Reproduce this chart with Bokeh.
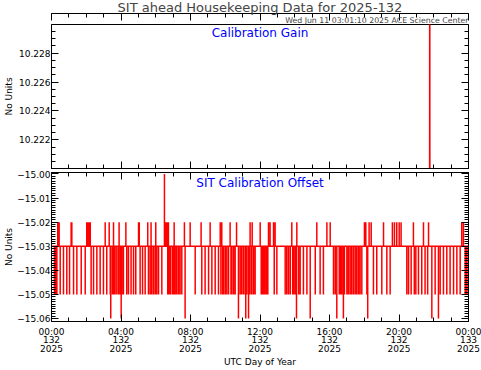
from bokeh.plotting import figure
from bokeh.models import (Range1d, LinearAxis, SingleIntervalTicker, CustomJSTickFormatter,
                          Label, Title, ColumnDataSource, CustomLabelingPolicy)
from bokeh.layouts import column
from bokeh.embed import file_html
from bokeh.resources import INLINE

# ---------------- data ----------------
title_text = "SIT ahead Housekeeping Data for 2025-132"
stamp_text = "Wed Jun 11 03:01:10 2025 ACE Science Center"

tick_hours = [0, 4, 8, 12, 16, 20, 24]
tick_times = ["00:00", "04:00", "08:00", "12:00", "16:00", "20:00", "00:00"]
tick_doys = ["132", "132", "132", "132", "132", "132", "133"]
tick_years = ["2025", "2025", "2025", "2025", "2025", "2025", "2025"]

# Calibration Gain (only visible as a jump through the plotted range)
gain_hours = [21.76, 21.77, 21.78]
gain_values = [10.200, 10.250, 10.200]

# SIT Calibration Offset: baseline with excursions
offset_base = -15.03
offset_hi_hours = [0.36, 0.44, 1.13, 1.17, 2.03, 2.09, 2.15, 2.23, 3.09, 3.32, 3.57, 3.89,
                   4.28, 5.01, 5.05, 5.54, 5.73, 6.00, 6.58, 6.66, 6.73, 7.06, 7.65,
                   7.98, 8.61, 9.13, 9.71, 9.80, 10.28, 10.65, 11.43, 11.55, 12.01, 12.49,
                   12.58, 12.78, 12.87, 13.83, 14.12, 15.27, 15.85,
                   16.04, 18.01, 18.09, 18.28, 18.40, 19.11, 19.62, 19.74, 19.87, 20.01,
                   20.12, 20.83, 21.41, 21.70, 23.61, 23.71]
offset_hi_value = -15.02
offset_lo_hours = [0.17, 0.25, 0.31, 0.50, 0.69, 0.88, 1.04, 1.27, 1.46, 1.71, 1.94, 2.28,
                   2.42, 2.61, 2.80, 2.99, 3.18, 3.38, 3.51, 3.59, 3.66, 3.76, 3.86, 3.95,
                   4.05, 4.14, 4.33, 4.43, 4.58, 4.72, 4.85, 5.10, 5.24, 5.39, 5.58, 5.68,
                   5.77, 5.87, 5.97, 6.06, 6.16, 6.35, 6.69, 6.77, 6.85, 6.96, 7.04, 7.12,
                   7.21, 7.31, 7.40, 7.50,
                   8.27, 8.65, 8.84, 9.04, 9.23, 9.42, 9.61, 9.75, 9.85, 9.90, 10.00, 10.09,
                   10.19, 10.33, 10.38, 10.48, 10.57, 10.86, 10.95, 11.05, 11.15, 11.24,
                   11.38, 11.48, 11.53, 11.63, 11.72, 12.07, 12.14, 12.22, 12.30, 12.39,
                   12.45, 12.82, 12.97, 13.45, 13.54, 13.64, 13.74, 13.88, 13.93, 14.02,
                   14.22, 14.31, 14.50, 14.70, 15.18, 15.46, 15.65,
                   16.23, 16.33, 16.56, 16.63, 16.71, 16.86, 17.00, 17.09, 17.19, 17.28,
                   17.38, 17.48, 17.57, 17.67, 17.76, 17.86, 18.15, 18.53, 18.72, 19.01,
                   19.30, 19.49, 20.45, 20.55, 20.70, 20.88, 20.97, 21.12, 21.31, 21.50,
                   21.65, 22.08, 22.37, 22.56, 22.75, 22.94, 23.14, 23.33, 23.52, 23.81,
                   23.90, 24.00]
offset_lo_value = -15.05
offset_lo2_hours = [3.41, 4.01, 7.69, 10.76, 11.18, 11.34, 14.10, 14.89, 16.42, 16.80,
                    18.20, 21.89, 22.27]
offset_lo2_value = -15.06
offset_top_hours = [6.50]
offset_top_value = -15.00

# ---------------- build series ----------------
events = sorted([(h, offset_hi_value) for h in offset_hi_hours] +
                [(h, offset_lo_value) for h in offset_lo_hours] +
                [(h, offset_lo2_value) for h in offset_lo2_hours] +
                [(h, offset_top_value) for h in offset_top_hours])
off_x = [0.0]
off_y = [offset_base]
for h, v in events:
    off_x += [h, h, h]
    off_y += [offset_base, v, offset_base]
off_x.append(24.0)
off_y.append(offset_base)

FONT = "DejaVu Sans"
RED = "#ff0000"
BLUE = "#0000ff"

x_range = Range1d(0, 24)

HIDE_CODE = """
const all = [...indices]
for (const i of all) indices.unset(i)
return indices
"""


def style_axis(ax, show_labels):
    ax.axis_line_color = "black"
    ax.major_tick_line_color = "black"
    ax.minor_tick_line_color = "black"
    ax.major_tick_in = 7
    ax.major_tick_out = 0
    ax.minor_tick_in = 4
    ax.minor_tick_out = 0
    ax.major_label_text_font = FONT
    ax.major_label_text_color = "black"
    ax.axis_label_text_font = FONT
    ax.axis_label_text_font_style = "normal"
    ax.axis_label_text_font_size = "9px"
    ax.axis_label_text_color = "black"
    if show_labels:
        ax.major_label_text_font_size = "9px"
        ax.major_label_standoff = 1
    else:
        ax.major_label_text_font_size = "0px"
        ax.major_label_standoff = 0
        ax.major_label_policy = CustomLabelingPolicy(code=HIDE_CODE)


def make_fig(height, y_range, border_top, border_bottom):
    p = figure(width=481, height=height, x_range=x_range, y_range=y_range,
               output_backend="svg", toolbar_location=None,
               min_border_left=51, min_border_right=13,
               min_border_top=border_top, min_border_bottom=border_bottom)
    p.grid.visible = False
    p.outline_line_color = "black"
    p.background_fill_color = "white"
    p.border_fill_color = "white"
    return p


# ---------------- top panel ----------------
gain_range = Range1d(10.22003, 10.22997)
p1 = make_fig(170, gain_range, 24, 2)
p1.title.text = title_text
p1.title.align = "center"
p1.title.vertical_align = "top"
p1.title.text_font = FONT
p1.title.text_font_size = "13px"
p1.title.text_font_style = "normal"
p1.title.standoff = -6
p1.add_layout(Title(text=stamp_text, align="right", vertical_align="bottom",
                    text_font=FONT, text_font_size="7.8px", text_font_style="normal",
                    standoff=-0.5), "above")

p1.xaxis.ticker = SingleIntervalTicker(interval=4, num_minor_ticks=4)
style_axis(p1.xaxis[0], False)
p1.yaxis.ticker = SingleIntervalTicker(interval=0.002, num_minor_ticks=4)
p1.yaxis.formatter = CustomJSTickFormatter(code="return tick.toFixed(3)")
p1.yaxis.axis_label = "No Units"
style_axis(p1.yaxis[0], True)
p1.yaxis.axis_label_standoff = 2

ax = LinearAxis(ticker=SingleIntervalTicker(interval=4, num_minor_ticks=4))
style_axis(ax, False)
p1.add_layout(ax, "above")
ax = LinearAxis(ticker=SingleIntervalTicker(interval=0.002, num_minor_ticks=4))
style_axis(ax, False)
p1.add_layout(ax, "right")

p1.line(gain_hours, gain_values, line_color=RED, line_width=1.5)
p1.add_layout(Label(x=12, y=gain_range.end - 0.059 * (gain_range.end - gain_range.start),
                    text="Calibration Gain", text_align="center", text_baseline="middle",
                    text_font=FONT, text_font_size="12px", text_color=BLUE))

# ---------------- bottom panel ----------------
off_range = Range1d(-15.0612, -14.9994)
p2 = make_fig(200, off_range, 2, 47)

overrides = {h: "%s\n%s\n%s" % (t, d, y)
             for h, t, d, y in zip(tick_hours, tick_times, tick_doys, tick_years)}
p2.xaxis.ticker = SingleIntervalTicker(interval=4, num_minor_ticks=4)
style_axis(p2.xaxis[0], True)
p2.xaxis.major_label_standoff = 5
p2.xaxis.major_label_overrides = overrides
p2.xaxis.major_label_text_line_height = 0.88
p2.xaxis.axis_label = "UTC Day of Year"
p2.xaxis.axis_label_standoff = 0

p2.yaxis.ticker = SingleIntervalTicker(interval=0.01, num_minor_ticks=10)
p2.yaxis.formatter = CustomJSTickFormatter(
    code="return (tick < 0 ? '\u2212' : '') + Math.abs(tick).toFixed(2)")
p2.yaxis.axis_label = "No Units"
style_axis(p2.yaxis[0], True)
p2.yaxis.axis_label_standoff = 0

ax = LinearAxis(ticker=SingleIntervalTicker(interval=4, num_minor_ticks=4))
style_axis(ax, False)
p2.add_layout(ax, "above")
ax = LinearAxis(ticker=SingleIntervalTicker(interval=0.01, num_minor_ticks=10))
style_axis(ax, False)
p2.add_layout(ax, "right")

src = ColumnDataSource(data=dict(x=off_x, y=off_y))
p2.line("x", "y", source=src, line_color=RED, line_width=1.5)
p2.add_layout(Label(x=12, y=off_range.end - 0.068 * (off_range.end - off_range.start),
                    text="SIT Calibration Offset", text_align="center", text_baseline="middle",
                    text_font=FONT, text_font_size="12px", text_color=BLUE))

layout = column(p1, p2, spacing=0)

open("out.html", "w").write(file_html(layout, INLINE))
